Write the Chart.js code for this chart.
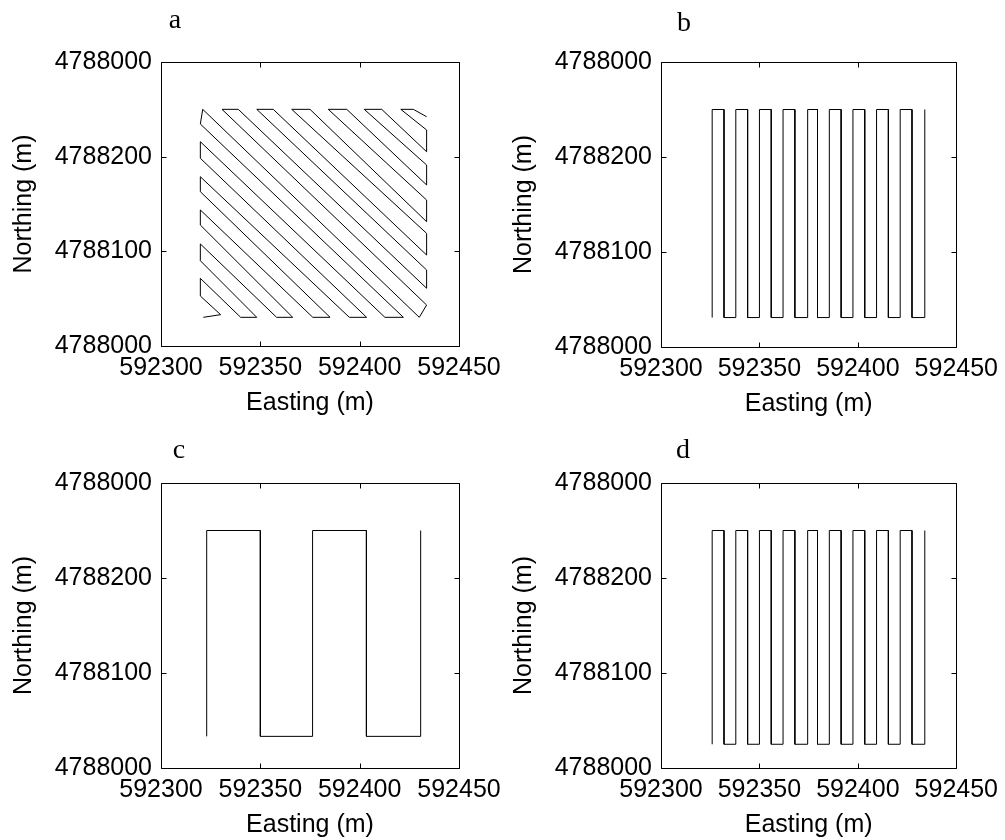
<!DOCTYPE html>
<html>
<head>
<meta charset="utf-8">
<script src="https://cdn.jsdelivr.net/npm/chart.js@4/dist/chart.umd.min.js"></script>
<style>
  html, body { margin: 0; padding: 0; background: #ffffff; }
  #wrap { position: relative; width: 1005px; height: 840px; overflow: hidden; background: #ffffff; }
  #wrap canvas { position: absolute; left: 0; top: 0; }
</style>
</head>
<body>
<div id="wrap">
  <canvas id="panelA" width="1005" height="840"></canvas>
  <canvas id="panelB" width="1005" height="840"></canvas>
  <canvas id="panelC" width="1005" height="840"></canvas>
  <canvas id="panelD" width="1005" height="840"></canvas>
</div>
<script>
// Axis text
const xTickValues = [592300, 592350, 592400, 592450];
const xTickLabels = ['592300', '592350', '592400', '592450'];
const yTickValues = [4788000, 4788100, 4788200, 4788300];
const yTickLabels = ['4788000', '4788100', '4788200', '4788000'];
const xAxisTitle = 'Easting (m)';
const yAxisTitle = 'Northing (m)';
const panelLetters = ['a', 'b', 'c', 'd'];

// a: diagonal passes (easting, northing of each vertex along the track)
const pathAEast = [
  592321.3, 592330.0, 592319.8, 592319.8, 592340.1, 592348.2, 592319.8, 592319.8,
  592358.2, 592366.3, 592319.8, 592319.8, 592376.4, 592385.1, 592319.8, 592319.8,
  592394.8, 592403.5, 592319.8, 592319.8, 592412.7, 592422.0, 592319.8, 592321.0,
  592430.0, 592433.7, 592330.7, 592338.9, 592433.7, 592433.7, 592348.2, 592356.5,
  592433.7, 592433.7, 592365.8, 592375.0, 592433.7, 592433.7, 592384.2, 592393.5,
  592433.7, 592433.7, 592402.3, 592411.1, 592433.7, 592433.7, 592420.7, 592427.0,
  592433.7
];
const pathANorth = [
  4788030.3, 4788033.1, 4788052.8, 4788071.5, 4788030.3, 4788030.3, 4788090.1, 4788107.8,
  4788030.3, 4788030.3, 4788127.8, 4788143.7, 4788030.3, 4788030.3, 4788163.0, 4788178.8,
  4788030.3, 4788030.3, 4788198.3, 4788215.8, 4788030.3, 4788030.3, 4788234.5, 4788250.0,
  4788030.3, 4788043.3, 4788250.0, 4788250.0, 4788061.0, 4788080.3, 4788250.0, 4788250.0,
  4788096.1, 4788119.0, 4788250.0, 4788250.0, 4788131.3, 4788154.2, 4788250.0, 4788250.0,
  4788170.1, 4788191.2, 4788250.0, 4788250.0, 4788205.2, 4788228.2, 4788250.0, 4788250.0,
  4788242.2
];

// b: narrow north-south passes
const pathBEast = [
  592326.0, 592326.0, 592332.0, 592332.0, 592338.0, 592338.0, 592344.0, 592344.0,
  592350.0, 592350.0, 592356.0, 592356.0, 592362.0, 592362.0, 592368.0, 592368.0,
  592374.5, 592374.5, 592379.5, 592379.5, 592385.5, 592385.5, 592391.5, 592391.5,
  592397.5, 592397.5, 592403.5, 592403.5, 592409.5, 592409.5, 592415.5, 592415.5,
  592421.5, 592421.5, 592427.5, 592427.5, 592434.0, 592434.0
];
const pathBNorth = [
  4788031, 4788250, 4788250, 4788031, 4788031, 4788250, 4788250, 4788031,
  4788031, 4788250, 4788250, 4788031, 4788031, 4788250, 4788250, 4788031,
  4788031, 4788250, 4788250, 4788031, 4788031, 4788250, 4788250, 4788031,
  4788031, 4788250, 4788250, 4788031, 4788031, 4788250, 4788250, 4788031,
  4788031, 4788250, 4788250, 4788031, 4788031, 4788250
];

// c: wide north-south passes
const pathCEast = [
  592323.0, 592323.0, 592350.0, 592350.0, 592376.3,
  592376.3, 592403.4, 592403.4, 592430.7, 592430.7
];
const pathCNorth = [
  4788033.3, 4788250, 4788250, 4788033.3, 4788033.3,
  4788250, 4788250, 4788033.3, 4788033.3, 4788250
];

// d: narrow north-south passes, longer southern extent
const pathDEast = [
  592326.0, 592326.0, 592332.0, 592332.0, 592338.0, 592338.0, 592344.0, 592344.0,
  592350.0, 592350.0, 592356.0, 592356.0, 592362.0, 592362.0, 592368.0, 592368.0,
  592374.5, 592374.5, 592379.5, 592379.5, 592385.5, 592385.5, 592391.5, 592391.5,
  592397.5, 592397.5, 592403.5, 592403.5, 592409.5, 592409.5, 592415.5, 592415.5,
  592421.5, 592421.5, 592427.5, 592427.5, 592434.0, 592434.0
];
const pathDNorth = [
  4788025, 4788250, 4788250, 4788025, 4788025, 4788250, 4788250, 4788025,
  4788025, 4788250, 4788250, 4788025, 4788025, 4788250, 4788250, 4788025,
  4788025, 4788250, 4788250, 4788025, 4788025, 4788250, 4788250, 4788025,
  4788025, 4788250, 4788250, 4788025, 4788025, 4788250, 4788250, 4788025,
  4788025, 4788250, 4788250, 4788025, 4788025, 4788250
];

const SANS = "'Liberation Sans', Arial, Helvetica, sans-serif";
const SERIF = "'Liberation Serif', 'Times New Roman', Times, serif";

// Box around the plot area, inward ticks on all four sides, panel letter above
const framePlugin = {
  id: 'frame',
  afterDraw(chart, args, opts) {
    const ctx = chart.ctx;
    const { left, right, top, bottom } = chart.chartArea;
    const xs = chart.scales.x, ys = chart.scales.y;
    const L = Math.round(left) + 0.5, R = Math.round(right) + 0.5;
    const T = Math.round(top) + 0.5, B = Math.round(bottom) + 0.5;
    const len = 5;
    ctx.save();
    ctx.strokeStyle = '#000';
    ctx.lineWidth = 1;
    ctx.beginPath();
    ctx.rect(L, T, R - L, B - T);
    xs.ticks.forEach(t => {
      const px = Math.round(xs.getPixelForValue(t.value)) + 0.5;
      ctx.moveTo(px, B); ctx.lineTo(px, B - len);
      ctx.moveTo(px, T); ctx.lineTo(px, T + len);
    });
    ys.ticks.forEach(t => {
      const py = Math.round(ys.getPixelForValue(t.value)) + 0.5;
      ctx.moveTo(L, py); ctx.lineTo(L + len, py);
      ctx.moveTo(R, py); ctx.lineTo(R - len, py);
    });
    ctx.stroke();
    ctx.fillStyle = '#000';
    ctx.font = '28px ' + SERIF;
    ctx.textAlign = 'center';
    ctx.textBaseline = 'alphabetic';
    ctx.fillText(opts.letter, left + opts.dx, top - opts.dy);
    ctx.restore();
  }
};

function makePanel(id, letter, east, north, pad, letterPos) {
  const pts = east.map((e, i) => ({ x: e, y: north[i] }));
  return new Chart(document.getElementById(id), {
    type: 'scatter',
    data: {
      datasets: [{
        data: pts,
        showLine: true,
        borderColor: '#000000',
        borderWidth: 1,
        pointRadius: 0,
        pointHoverRadius: 0,
        tension: 0,
        fill: false
      }]
    },
    options: {
      responsive: false,
      animation: false,
      events: [],
      layout: { padding: pad },
      plugins: {
        legend: { display: false },
        tooltip: { enabled: false },
        frame: { letter: letter, dx: letterPos[0], dy: letterPos[1] }
      },
      scales: {
        x: {
          type: 'linear',
          min: xTickValues[0],
          max: xTickValues[xTickValues.length - 1],
          afterBuildTicks: s => { s.ticks = xTickValues.map(v => ({ value: v })); },
          ticks: {
            autoSkip: false, maxRotation: 0, minRotation: 0,
            padding: 7, color: '#000',
            font: { family: SANS, size: 25 },
            callback: (v) => xTickLabels[xTickValues.indexOf(v)]
          },
          grid: { display: false, drawTicks: false },
          border: { display: false },
          title: {
            display: true, text: xAxisTitle, color: '#000',
            font: { family: SANS, size: 25 },
            padding: { top: 0, bottom: 0 }
          },
          afterFit: s => { s.height = 72; }
        },
        y: {
          type: 'linear',
          min: yTickValues[0],
          max: yTickValues[yTickValues.length - 1],
          afterBuildTicks: s => { s.ticks = yTickValues.map(v => ({ value: v })); },
          ticks: {
            autoSkip: false, padding: 9, color: '#000',
            font: { family: SANS, size: 25 },
            callback: (v) => yTickLabels[yTickValues.indexOf(v)]
          },
          grid: { display: false, drawTicks: false },
          border: { display: false },
          title: {
            display: true, text: yAxisTitle, color: '#000',
            font: { family: SANS, size: 25 },
            padding: { top: 3, bottom: 0 }
          },
          afterFit: s => { s.width = 155; }
        }
      }
    },
    plugins: [framePlugin]
  });
}

makePanel('panelA', panelLetters[0], pathAEast, pathANorth,
  { left: 6, right: 546, top: 62, bottom: 422 }, [14, 34]);
makePanel('panelB', panelLetters[1], pathBEast, pathBNorth,
  { left: 506, right: 47, top: 62, bottom: 421 }, [23, 31]);
makePanel('panelC', panelLetters[2], pathCEast, pathCNorth,
  { left: 6, right: 546, top: 483, bottom: 0 }, [18, 25]);
makePanel('panelD', panelLetters[3], pathDEast, pathDNorth,
  { left: 506, right: 47, top: 483, bottom: 0 }, [22, 25]);
</script>
</body>
</html>
